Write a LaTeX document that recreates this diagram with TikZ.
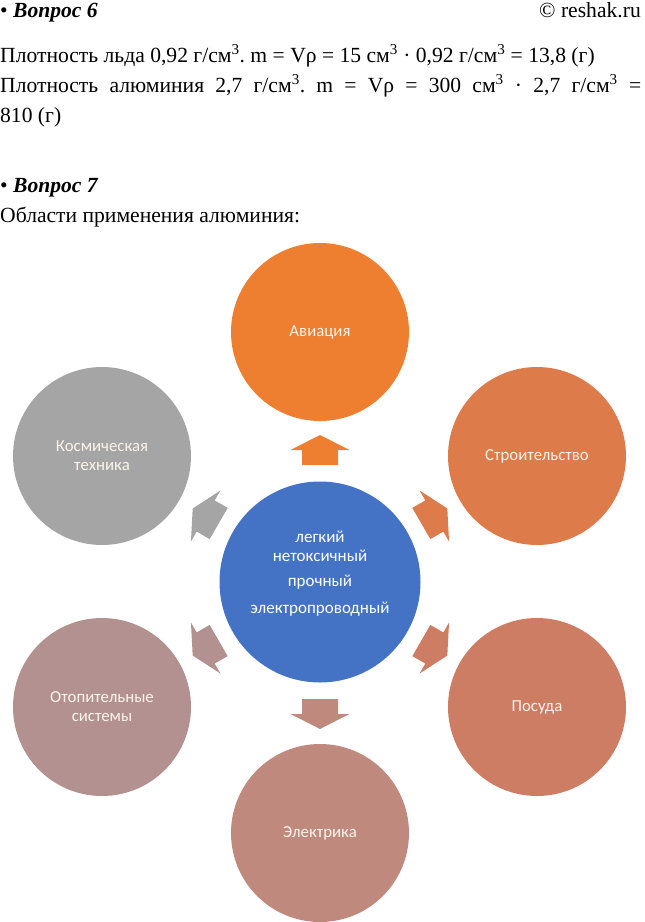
\documentclass[tikz,border=0pt]{standalone}
\usepackage{fontspec}
\setmainfont{Liberation Serif}
\newfontfamily\carl{Carlito}
\frenchspacing
\definecolor{blueC}{HTML}{4472C4}
\definecolor{aviaC}{HTML}{EE7E30}
\definecolor{stroiC}{HTML}{DE7B4A}
\definecolor{posudaC}{HTML}{CD7D63}
\definecolor{elekC}{HTML}{BF897D}
\definecolor{otopC}{HTML}{B39191}
\definecolor{kosmC}{HTML}{A5A5A5}
\definecolor{txtC}{HTML}{FBF4EC}
\tikzset{
  bodytext/.style={anchor=base west, inner sep=0pt, font=\fontsize{21.6}{26}\selectfont},
  bubble/.style={circle, inner sep=0pt, minimum size=178pt, text=txtC, align=center, font=\carl\fontsize{16.8}{19}\selectfont},
  centertext/.style={anchor=base, inner sep=0pt, text=white, font=\carl\fontsize{17}{20}\selectfont},
}
\newcommand\radarrow[2]{%
  \fill[#2, shift={(c.center)}, rotate=-#1] (-18,-117) -- (-18,-132) -- (-29.5,-132) -- (0,-147) -- (29.5,-132) -- (18,-132) -- (18,-117) -- cycle;}
\begin{document}
\begin{tikzpicture}[x=1pt,y=-1pt]
\useasboundingbox (0,0) rectangle (645,922);
% header text
\node[bodytext] (q6) at (0,17) {• \textbf{\textit{Вопрос 6}}};
\node[bodytext, anchor=base east] (copy) at (641,17) {© reshak.ru};
\node[bodytext] (l1) at (0,62) {Плотность льда 0,92 г/см\textsuperscript{3}. m = Vρ = 15 см\textsuperscript{3} · 0,92 г/см\textsuperscript{3} = 13,8 (г)};
\node[bodytext] (l2) at (0,92) {\makebox[641pt][s]{Плотность алюминия 2,7 г/см\textsuperscript{3}. m = Vρ = 300 см\textsuperscript{3} · 2,7 г/см\textsuperscript{3} =}};
\node[bodytext] (l3) at (0,122) {810 (г)};
\node[bodytext] (q7) at (0,192) {• \textbf{\textit{Вопрос 7}}};
\node[bodytext] (l4) at (0,222) {Области применения алюминия:};
% center
\node[circle, fill=blueC, minimum size=201pt, inner sep=0pt] (c) at (320,582) {};
\node[centertext] (t1) at (320,542) {легкий};
\node[centertext] (t2) at (320,561) {нетоксичный};
\node[centertext] (t3) at (320,586) {прочный};
\node[centertext] (t4) at (320,613) {электропроводный};
% outer circles
\node[bubble, fill=aviaC] (avia) at (320,332) {Авиация};
\node[bubble, fill=stroiC] (stroi) at (537,456) {Строительство};
\node[bubble, fill=posudaC] (posuda) at (537,707) {Посуда};
\node[bubble, fill=elekC] (elek) at (320,833) {Электрика};
\node[bubble, fill=otopC] (otop) at (102,707) {Отопительные\\системы};
\node[bubble, fill=kosmC] (kosm) at (102,456) {Космическая\\техника};
% arrows
\radarrow{0}{aviaC}
\radarrow{60}{stroiC}
\radarrow{120}{posudaC}
\radarrow{180}{elekC}
\radarrow{240}{otopC}
\radarrow{300}{kosmC}
\end{tikzpicture}
\end{document}
